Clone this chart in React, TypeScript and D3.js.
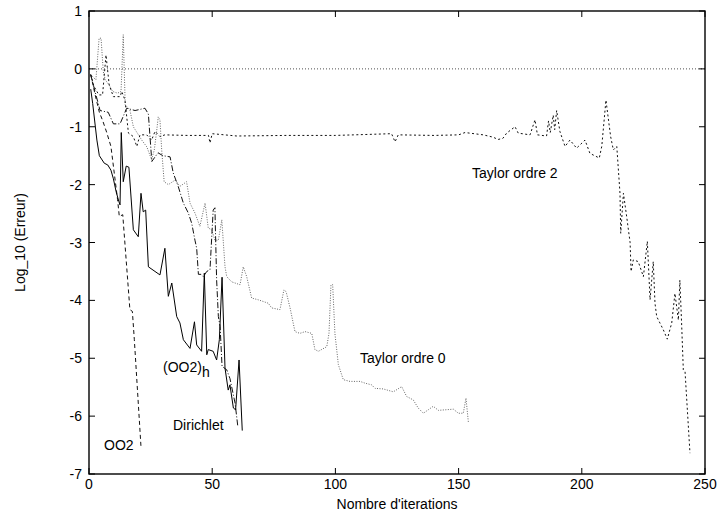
import React from "react";
import * as d3 from "d3";

const xTicks = [0, 50, 100, 150, 200, 250];
const yTicks = [1, 0, -1, -2, -3, -4, -5, -6, -7];

const oo2: [number, number][] = [
  [0.7, -0.1], [2.5, -0.45], [4.2, -0.75], [5.6, -0.9], [7.2, -1.1], [8.9, -1.34],
  [11.6, -2.26], [12.3, -2.55], [13.7, -2.52], [16.6, -4.16], [17.6, -4.19],
  [18.4, -4.68], [21.1, -6.53],
];

const oo2h: [number, number][] = [
  [0.7, -0.35], [1.5, -0.6], [3.2, -1.23], [4.2, -1.5], [6.2, -1.63], [7.6, -1.66],
  [8.9, -1.75], [9.9, -1.9], [11, -2.12], [12.1, -2.29], [12.6, -2.35], [13.1, -1.1],
  [13.9, -1.95], [15.1, -1.68], [16.2, -1.7], [18, -2.78], [20, -2.9], [21.1, -2.15],
  [22, -2.47], [23, -2.44], [24.1, -3.42], [28.8, -3.56], [30.8, -3.1], [32.2, -3.93],
  [33.6, -3.7], [35.6, -4.28], [36.9, -4.39], [38.3, -4.68], [41, -4.83], [42.8, -4.37],
  [43.7, -4.77], [45.7, -4.88], [46.8, -3.53], [47.8, -4.94], [48.4, -4.85], [50.4, -4.88],
  [51.8, -5.03], [52.9, -4.68], [54, -3.6], [55.2, -5.17], [56.5, -5.55], [57.2, -5.46],
  [58.6, -5.86], [59.5, -5.89], [60.9, -5.03], [62.2, -6.25],
];

const dirichlet: [number, number][] = [
  [0.7, -0.1], [2.5, -0.4], [4.5, -0.72], [7.8, -0.75], [9.9, -0.95], [12.6, -0.95],
  [15.3, -0.68], [18.7, -0.72], [22.7, -0.68], [24.1, -0.78], [24.8, -1.2], [25.5, -1.6],
  [28, -1.45], [30, -1.5], [32.9, -1.52], [34.2, -1.8], [36.2, -2.03], [38.3, -2.32],
  [40.3, -2.49], [41.7, -2.67], [43, -2.96], [43.7, -3.1], [44.4, -3.55], [45.5, -3.55],
  [46.4, -3.59], [47.8, -3.5], [49.1, -3.47], [50.4, -2.44], [51.1, -2.4], [51.8, -3.65],
  [52.5, -4.28], [53.2, -4.45], [54, -5.14], [55.9, -5.2], [57.2, -5.35], [59.3, -5.78],
  [60.4, -6.18],
];

const taylor0: [number, number][] = [
  [0.7, -0.1], [2.8, -0.19], [4.1, 0.53], [4.9, 0.53], [5.8, -0.05], [6.6, -0.19],
  [8.2, -0.28], [9.6, -0.39], [11.6, -0.42], [13, -0.39], [13.9, 0.59], [14.7, -0.62],
  [15.3, -0.65], [16.6, -0.71], [18, -1.0], [21.4, -1.23], [23.5, -1.35], [25.4, -1.57],
  [26.5, -1.4], [27.5, -1.06], [28.1, -0.83], [28.8, -0.88], [29.5, -1.4], [30.5, -1.95],
  [32.2, -2.0], [35, -1.92], [36.9, -2.03], [39.6, -1.95], [41, -2.32], [43, -2.49],
  [45, -2.72], [47.1, -2.32], [48.4, -2.75], [49.8, -2.78], [51.1, -2.96], [52.5, -2.96],
  [53.9, -2.61], [55.2, -3.42], [55.9, -3.59], [57.9, -3.68], [61.3, -3.73], [62.6, -3.42],
  [64, -3.59], [66, -3.96], [68.7, -3.99], [72.8, -4.05], [74.1, -4.13], [77.5, -4.16],
  [79.1, -3.82], [80, -3.85], [81.6, -4.13], [83.6, -4.54], [85.6, -4.57], [87.7, -4.54],
  [90.4, -4.57], [91.7, -4.85], [93.1, -4.88], [96.5, -4.8], [97.4, -4.57], [98.2, -3.73],
  [98.9, -3.73], [99.8, -4.57], [101.2, -5.11], [103.2, -5.37], [105.9, -5.4], [110, -5.4],
  [112, -5.43], [114.7, -5.46], [116.1, -5.52], [119.4, -5.53], [123.5, -5.58],
  [126.9, -5.49], [128.9, -5.66], [131.6, -5.72], [133.6, -5.86], [135.7, -5.95],
  [137.7, -5.89], [139.7, -5.83], [141.8, -5.9], [147.9, -5.88], [149.9, -5.95],
  [151.9, -5.95], [153, -5.69], [154, -6.12],
];

const taylor2: [number, number][] = [
  [0.7, -0.1], [2, -0.3], [4, -0.45], [5.5, -0.45], [6.9, 0.24], [8.2, -0.28], [9.9, -0.48],
  [12.6, -0.48], [13.3, -0.39], [14.6, -0.54], [16, -1.11], [18, -1.17], [19.4, -1.34],
  [20.7, -1.14], [23.4, -1.14], [25.4, -1.23], [26.8, -1.08], [28.8, -1.17], [30.8, -1.14],
  [40, -1.15], [48.5, -1.15], [49.1, -1.28], [50, -1.12], [60, -1.16], [80, -1.15],
  [100, -1.15], [122.8, -1.12], [124.2, -1.26], [125.5, -1.14], [140, -1.15], [150, -1.14],
  [152.6, -1.1], [160, -1.14], [164, -1.18], [166, -1.22], [168, -1.2], [169.5, -1.11],
  [172.9, -1.0], [174.2, -1.11], [179, -1.14], [181, -0.88], [182, -1.14], [185.7, -1.16],
  [186.5, -0.9], [187.2, -1.1], [188.4, -0.8], [189, -1.05], [189.8, -0.72], [191.1, -1.08],
  [193.2, -1.34], [195.2, -1.23], [197.9, -1.37], [201.3, -1.23], [203.3, -1.46],
  [207.1, -1.54], [208.1, -1.34], [209.8, -0.54], [211.7, -1.17], [212.8, -1.4],
  [214.2, -1.34], [215.5, -2.15], [215.8, -2.84], [216.9, -2.15], [218.2, -2.55],
  [219.6, -3.0], [220, -3.5], [220.9, -3.3], [222.9, -3.33], [225, -3.59], [226.6, -2.98],
  [227.7, -3.99], [229, -3.33], [229.7, -4.05], [230.4, -4.28], [233.1, -4.51],
  [234.7, -4.67], [236.5, -4.39], [237.8, -3.88], [239.2, -4.34], [239.8, -3.65],
  [240.5, -4.39], [241.2, -5.2], [241.9, -5.23], [243.9, -6.64],
];

const FONT = "'Liberation Sans', Arial, Helvetica, sans-serif";

export default function App() {
  const W = 717, H = 514;
  const L = 89, R = 705, T = 11, B = 474;
  const x = d3.scaleLinear().domain([0, 250]).range([L, R]);
  const y = d3.scaleLinear().domain([-7, 1]).range([B, T]);
  const line = d3.line<[number, number]>().x((d) => x(d[0])).y((d) => y(d[1]));
  const tl = 6;

  return (
    <svg width={W} height={H} style={{ position: "absolute", left: 0, top: 0, background: "#fff" }} fontFamily={FONT}>
      <rect x={0} y={0} width={W} height={H} fill="#fff" />
      {/* zero line */}
      <line x1={x(0)} x2={x(250)} y1={y(0)} y2={y(0)} stroke="#222" strokeWidth={0.8} strokeDasharray="1,2" />
      {/* series */}
      <path d={line(taylor0) || ""} fill="none" stroke="#666" strokeWidth={1} strokeDasharray="1,1.5" />
      <path d={line(taylor2) || ""} fill="none" stroke="#111" strokeWidth={1} strokeDasharray="2,2.5" />
      <path d={line(dirichlet) || ""} fill="none" stroke="#111" strokeWidth={1} strokeDasharray="6,2,1,2" />
      <path d={line(oo2) || ""} fill="none" stroke="#111" strokeWidth={1} strokeDasharray="4,3" />
      <path d={line(oo2h) || ""} fill="none" stroke="#000" strokeWidth={1} />
      {/* frame */}
      <rect x={L} y={T} width={R - L} height={B - T} fill="none" stroke="#000" strokeWidth={1.4} />
      {/* ticks */}
      {xTicks.map((t) => (
        <g key={"xt" + t}>
          <line x1={x(t)} x2={x(t)} y1={B} y2={B - tl} stroke="#000" strokeWidth={1} />
          <line x1={x(t)} x2={x(t)} y1={T} y2={T + tl} stroke="#000" strokeWidth={1} />
          <text x={x(t)} y={489} textAnchor="middle" fontSize={14} fill="#000">{t}</text>
        </g>
      ))}
      {yTicks.map((t) => (
        <g key={"yt" + t}>
          <line x1={L} x2={L + tl} y1={y(t)} y2={y(t)} stroke="#000" strokeWidth={1} />
          <line x1={R} x2={R - tl} y1={y(t)} y2={y(t)} stroke="#000" strokeWidth={1} />
          <text x={82} y={y(t) + 5} textAnchor="end" fontSize={14} fill="#000">{t}</text>
        </g>
      ))}
      {/* axis titles */}
      <text x={397} y={509} textAnchor="middle" fontSize={14} fill="#000">Nombre d'iterations</text>
      <text transform={`translate(25,${(T + B) / 2}) rotate(-90)`} textAnchor="middle" fontSize={14} fill="#000">Log_10 (Erreur)</text>
      {/* series labels */}
      <text x={104} y={450} fontSize={14} fill="#000">OO2</text>
      <text x={163} y={372} fontSize={14} fill="#000">(OO2)<tspan dy={5}>h</tspan></text>
      <text x={173} y={430} fontSize={14} fill="#000">Dirichlet</text>
      <text x={360} y={363} fontSize={14} fill="#000">Taylor ordre 0</text>
      <text x={472} y={178} fontSize={14} fill="#000">Taylor ordre 2</text>
    </svg>
  );
}
